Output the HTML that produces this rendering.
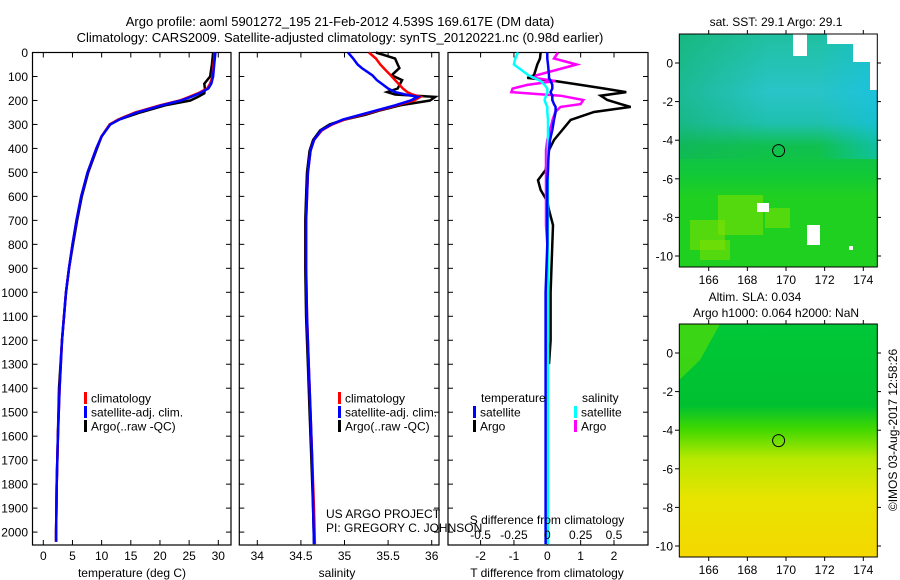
<!DOCTYPE html>
<html><head><meta charset="utf-8"><style>
html,body{margin:0;padding:0;background:#fff;}
svg{display:block;font-family:"Liberation Sans",Arial,sans-serif;}
</style></head><body>
<svg id="fig" width="900" height="580" viewBox="0 0 900 580">
<defs>
<linearGradient id="sstV" x1="0" y1="0" x2="0" y2="1">
<stop offset="0" stop-color="#20c0a0"/><stop offset="0.25" stop-color="#28c4c8"/><stop offset="0.38" stop-color="#20c0b0"/><stop offset="0.48" stop-color="#10c050"/><stop offset="0.6" stop-color="#10c838"/><stop offset="0.7" stop-color="#20d020"/><stop offset="1" stop-color="#20d020"/>
</linearGradient>
<linearGradient id="sstH" x1="0" y1="0" x2="1" y2="0">
<stop offset="0" stop-color="#10b060" stop-opacity="0.5"/><stop offset="0.45" stop-color="#10b060" stop-opacity="0"/><stop offset="0.7" stop-color="#10c0f0" stop-opacity="0"/><stop offset="1" stop-color="#10c0f0" stop-opacity="0.5"/>
</linearGradient>
<linearGradient id="slaV" x1="0" y1="0" x2="0" y2="1">
<stop offset="0" stop-color="#00c838"/><stop offset="0.35" stop-color="#00c030"/><stop offset="0.45" stop-color="#40d800"/><stop offset="0.58" stop-color="#b8e800"/><stop offset="0.75" stop-color="#e8e400"/><stop offset="1" stop-color="#f4d800"/>
</linearGradient>
</defs>
<g id="root"></g>
</svg>
<script>
// ---- data ----
const depthTicks = [0,100,200,300,400,500,600,700,800,900,1000,1100,1200,1300,1400,1500,1600,1700,1800,1900,2000];
const tempTicks = [0,5,10,15,20,25,30];
const salTicks = [34,34.5,35,35.5,36];
const tdTicks = [-2,-1,0,1,2];
const sdTicks = [-0.5,-0.25,0,0.25,0.5];
const sdTickLabels = ["-0.5","-0.25","0","0.25","0.5"];
const lonTicks = [166,168,170,172,174];
const latTicks = [0,-2,-4,-6,-8,-10];

const depthT = [0,50,100,130,150,170,185,200,220,250,280,300,350,400,500,600,700,800,900,1000,1200,1400,1600,1800,2000,2040];
const tempArgo = [29.1,28.9,28.6,27.6,27.7,27.6,26.5,25.2,20.9,16.6,13.0,11.4,10.0,9.2,7.7,6.6,5.8,5.1,4.4,3.9,3.2,2.7,2.5,2.3,2.2,2.2];
const tempClim = [29.4,29.2,29.0,28.6,28.1,26.5,25.0,23.4,20.0,15.7,12.8,11.4,10.0,9.1,7.6,6.5,5.7,5.0,4.4,3.9,3.2,2.8,2.5,2.3,2.2,2.2];
const tempSat  = [29.5,29.3,29.1,28.8,28.3,26.8,25.3,23.6,20.3,16.0,13.0,11.5,10.0,9.1,7.6,6.5,5.7,5.0,4.4,3.9,3.2,2.8,2.5,2.3,2.2,2.2];

const depthS = [0,25,50,65,95,115,150,165,175,185,200,220,240,260,280,300,325,365,410,500,600,700,900,1100,1300,1500,1700,1900,2050];
const salArgo = [35.36,35.58,35.61,35.63,35.54,35.66,35.61,35.49,35.58,36.04,35.98,35.64,35.42,35.24,35.0,34.83,34.72,34.64,34.6,34.57,34.56,34.55,34.55,34.56,34.58,34.6,34.62,34.64,34.65];
const salClim = [35.28,35.36,35.41,35.45,35.53,35.58,35.67,35.72,35.78,35.87,35.8,35.6,35.4,35.2,35.0,34.86,34.74,34.65,34.61,34.58,34.57,34.56,34.56,34.57,34.59,34.61,34.63,34.65,34.66];
const salSat  = [35.04,35.10,35.15,35.2,35.32,35.37,35.5,35.58,35.7,35.84,35.76,35.58,35.38,35.18,34.98,34.85,34.73,34.65,34.61,34.58,34.57,34.56,34.56,34.57,34.59,34.61,34.63,34.64,34.65];

const depthD = [0,25,50,95,106,119,135,150,165,180,198,215,227,248,281,323,365,407,450,490,532,573,620,657,720,800,1000,1200,1300];
const tdArgo = [-0.2,-0.22,-0.3,-0.4,-0.6,0.23,1.0,1.7,2.37,1.6,1.8,2.2,2.5,1.4,0.7,0.45,0.2,0.05,0.0,-0.05,-0.28,-0.2,0.0,0.05,0.17,0.15,0.1,0.1,0.05];
const depthD2 = [0,25,50,95,106,119,135,150,165,180,198,215,227,248,281,323,365,407,450,490,532,573,620,657,720,800,1000,1200,1400,1700,2050];
const tdSat  = [0,0.0,0.02,0.05,0.05,0.1,0.15,0.15,0.1,0.15,0.15,0.2,0.25,0.25,0.2,0.15,0.08,0.05,0.03,0.02,0.0,0.0,0.0,0.0,0.0,0.0,-0.05,-0.05,-0.05,-0.05,-0.05];
const sdArgo = [0.08,0.05,0.22,-0.08,-0.1,0.06,-0.15,-0.26,-0.27,0.1,0.27,0.25,0.1,0.06,0.04,0.02,0.0,-0.01,-0.01,-0.01,-0.01,-0.01,-0.01,-0.01,-0.01,0,0,0,0];
const sdSat  = [-0.22,-0.24,-0.25,-0.14,-0.1,-0.05,-0.02,0.0,0.0,-0.01,-0.02,-0.01,0.0,0.0,0.005,0.005,0.005,0.005,0.005,0.005,0.005,0.005,0.005,0.005,0.005,0.005,0.005,0.005,0.005,0.005,0.005];

const argoLon = [169.617];
const argoLat = [-4.539];

// ---- helpers ----
const NS = "http://www.w3.org/2000/svg";
const root = document.getElementById("root");
function mk(tag, attrs, parent){ const e=document.createElementNS(NS,tag); for(const k in attrs) e.setAttribute(k,attrs[k]); (parent||root).appendChild(e); return e; }
function txt(x,y,s,anchor,size,parent){ const t=mk("text",{x:x,y:y,"text-anchor":anchor||"middle","font-size":size||12,fill:"#000"},parent); t.textContent=s; return t; }

const TOP=52.5, BOT=545;
const yD = d => TOP + d*0.2398;
function scale(d0,d1,p0,p1){ return v => p0 + (v-d0)*(p1-p0)/(d1-d0); }
const xT = scale(0,30,43.3,218.3);
const xS = scale(34,36,257.3,431.7);
const xTD = scale(0,2,547.3,614);
const xSD = scale(0,0.5,547.3,614);

function line(xs,ds,xf,color,name,parent){
  const pts = xs.map((v,i)=>xf(v).toFixed(1)+","+yD(ds[i]).toFixed(1)).join(" ");
  const p = mk("polyline",{points:pts,fill:"none",stroke:color,"stroke-width":2.5,"stroke-linejoin":"miter"},parent);
  
  
  return p;
}

function panel(x0,x1,name){
  const g = mk("g",{});
  
  
  mk("rect",{x:x0,y:TOP,width:x1-x0,height:BOT-TOP,fill:"#fff",stroke:"#000","stroke-width":1.2},g);
  depthTicks.forEach(d=>{
    mk("line",{x1:x0,x2:x0+5,y1:yD(d),y2:yD(d),stroke:"#000"},g);
    mk("line",{x1:x1-5,x2:x1,y1:yD(d),y2:yD(d),stroke:"#000"},g);
  });
  return g;
}
function xticks(g,ticks,xf,labels,ylab){
  ticks.forEach((v,i)=>{
    mk("line",{x1:xf(v),x2:xf(v),y1:BOT,y2:BOT-5,stroke:"#000"},g);
    mk("line",{x1:xf(v),x2:xf(v),y1:TOP,y2:TOP+5,stroke:"#000"},g);
    const t=txt(xf(v),ylab,labels?labels[i]:String(v),"middle",12,g);
    
    
  });
}
function legendEntry(g,x,y,color,label){
  const b=mk("rect",{x:x,y:y-6,width:3,height:12,fill:color},g);
  
  
  const t=txt(x+7,y+4.5,label,"start",12,g);
  
  
}

// titles
let t = txt(340,26,"Argo profile: aoml 5901272_195 21-Feb-2012 4.539S 169.617E (DM data)","middle",13);


t = txt(340,42,"Climatology: CARS2009. Satellite-adjusted climatology: synTS_20120221.nc (0.98d earlier)","middle",13);



// depth labels
depthTicks.forEach(d=>{ const l=txt(28,yD(d)+4.5,String(d),"end",12);   });

// panel 1
const p1 = panel(32.5,231,"temperature-panel");
xticks(p1,tempTicks,xT,null,560);
line(tempArgo,depthT,xT,"#000","argo-temperature-line",p1);
line(tempClim,depthT,xT,"#ff0000","climatology-temperature-line",p1);
line(tempSat,depthT,xT,"#0000ff","satellite-temperature-line",p1);
t=txt(132,577,"temperature (deg C)","middle",12,p1);  
legendEntry(p1,84,398,"#ff0000","climatology");
legendEntry(p1,84,412,"#0000ff","satellite-adj. clim.");
legendEntry(p1,84,426,"#000","Argo(..raw -QC)");

// panel 2
const p2 = panel(239.3,439,"salinity-panel");
xticks(p2,salTicks,xS,null,560);
line(salArgo,depthS,xS,"#000","argo-salinity-line",p2);
line(salClim,depthS,xS,"#ff0000","climatology-salinity-line",p2);
line(salSat,depthS,xS,"#0000ff","satellite-salinity-line",p2);
t=txt(337,577,"salinity","middle",12,p2);  
legendEntry(p2,338,398,"#ff0000","climatology");
legendEntry(p2,338,412,"#0000ff","satellite-adj. clim.");
legendEntry(p2,338,426,"#000","Argo(..raw -QC)");

// panel 3
const p3 = panel(448,648,"difference-panel");
tdTicks.forEach(v=>{
  mk("line",{x1:xTD(v),x2:xTD(v),y1:BOT,y2:BOT-5,stroke:"#000"},p3);
  const l=txt(xTD(v),560,String(v),"middle",12,p3);  
});
sdTicks.forEach(v=>{ mk("line",{x1:xSD(v),x2:xSD(v),y1:TOP,y2:TOP+5,stroke:"#000"},p3); });
line(tdArgo,depthD,xTD,"#000","argo-temperature-difference-line",p3);
line(sdArgo,depthD,xSD,"#ff00ff","argo-salinity-difference-line",p3);
line(sdSat,depthD2,xSD,"#00ffff","satellite-salinity-difference-line",p3);
line(tdSat,depthD2,xTD,"#0000ff","satellite-temperature-difference-line",p3);
sdTicks.forEach((v,i)=>{ const l=txt(xSD(v),539,sdTickLabels[i],"middle",12,p3);   });
t=txt(547,524,"S difference from climatology","middle",12,p3);  
t=txt(547,577,"T difference from climatology","middle",12,p3);  
t=txt(481,402,"temperature","start",12,p3);  
t=txt(582,402,"salinity","start",12,p3);  
legendEntry(p3,473,412,"#0000ff","satellite");
legendEntry(p3,473,426,"#000","Argo");
legendEntry(p3,574,412,"#00ffff","satellite");
legendEntry(p3,574,426,"#ff00ff","Argo");

// project text
t=txt(326,518,"US ARGO PROJECT","start",12);  
t=txt(326,532,"PI: GREGORY C. JOHNSON","start",12);  

// maps
const xLon = scale(166,174,708.7,863.3);
function map(y0,y1,lat0y,name,fill,extra){
  const g = mk("g",{});
  
  
  const yLat = scale(0,-10,lat0y,lat0y+193);
  mk("rect",{x:679.3,y:y0,width:198,height:y1-y0,fill:fill},g);
  extra(g,yLat);
  mk("rect",{x:679.3,y:y0,width:198,height:y1-y0,fill:"none",stroke:"#000","stroke-width":1},g);
  lonTicks.forEach(v=>{
    mk("line",{x1:xLon(v),x2:xLon(v),y1:y0,y2:y0-4,stroke:"#000"},g);
    mk("line",{x1:xLon(v),x2:xLon(v),y1:y1,y2:y1+4,stroke:"#000"},g);
    const l=txt(xLon(v),y1+17,String(v),"middle",12,g);  
  });
  latTicks.forEach(v=>{
    mk("line",{x1:679.3,x2:675,y1:yLat(v),y2:yLat(v),stroke:"#000"},g);
    mk("line",{x1:877.3,x2:881,y1:yLat(v),y2:yLat(v),stroke:"#000"},g);
    const l=txt(673,yLat(v)+4.5,String(v),"end",12,g);  
  });
  const c=mk("circle",{cx:xLon(argoLon[0]),cy:yLat(argoLat[0]),r:6,fill:"none",stroke:"#000","stroke-width":1},g);
  
  
  return g;
}
map(34,267,63,"sst-map","url(#sstV)",(g,yLat)=>{
  mk("rect",{x:679.3,y:34,width:198,height:125,fill:"url(#sstH)"},g);
  [[690,220,35,30],[718,195,45,40],[765,208,25,20],[700,240,30,20]].forEach(r=>mk("rect",{x:r[0],y:r[1],width:r[2],height:r[3],fill:"#80e000",opacity:0.55},g));
  [[793,34,14,22],[827,34,50,10],[853,40,24,22],[870,60,7,30],[757,203,12,9],[807,225,13,20],[849,246,4,4]].forEach(r=>mk("rect",{x:r[0],y:r[1],width:r[2],height:r[3],fill:"#fff"},g));
});
map(324,557,353,"sla-map","url(#slaV)",(g,yLat)=>{
  mk("path",{d:"M679.3 324 L720 324 L700 360 L679.3 380 Z",fill:"#60e000",opacity:0.6},g);
});

t=txt(776,26,"sat. SST: 29.1 Argo: 29.1","middle",12);  
t=txt(755,301,"Altim. SLA: 0.034","middle",12);  
t=txt(776,317,"Argo h1000: 0.064 h2000: NaN","middle",12);  
t=txt(0,0,"©IMOS 03-Aug-2017 12:58:26","middle",12);
t.setAttribute("transform","translate(897,430) rotate(-90)");


</script>
</body></html>
